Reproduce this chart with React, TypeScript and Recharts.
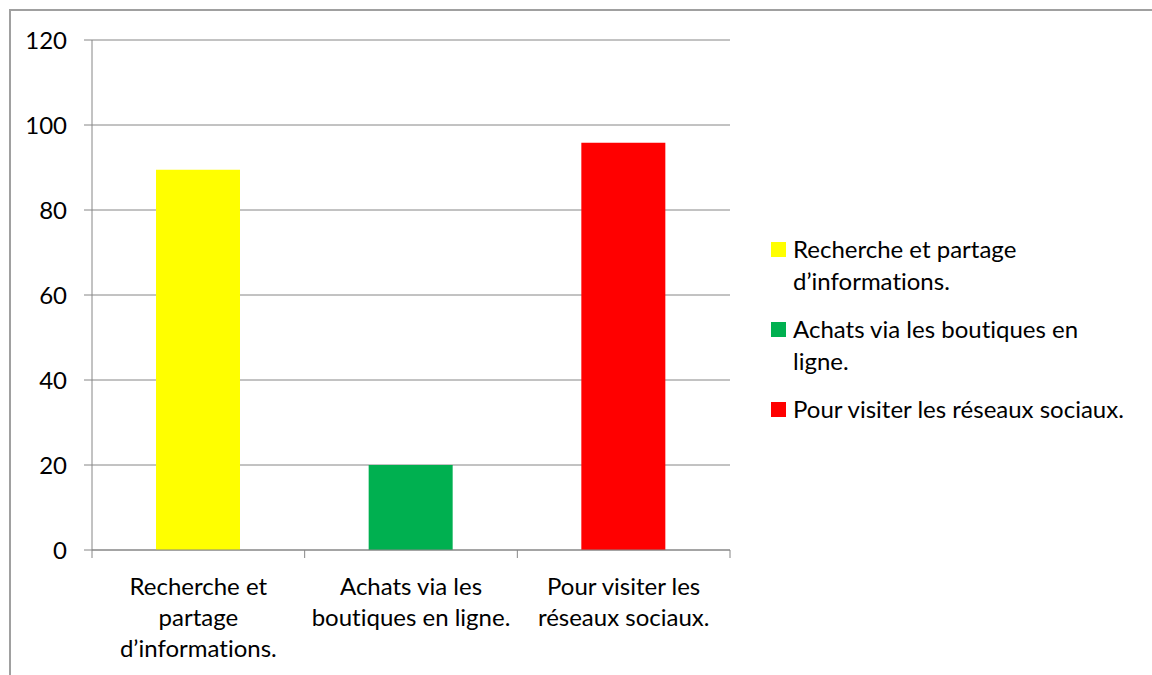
import React from "react";
import { BarChart, Bar, Cell, XAxis, YAxis, CartesianGrid, Legend } from "recharts";

const categories = [
  "Recherche et partage d’informations.",
  "Achats via les boutiques en ligne.",
  "Pour visiter les réseaux sociaux.",
];
const values = [89.5, 20, 95.8];
const colors = ["#FFFF00", "#00B050", "#FF0000"];
const axisLabelLines = [
  ["Recherche et", "partage", "d’informations."],
  ["Achats via les", "boutiques en ligne."],
  ["Pour visiter les", "réseaux sociaux."],
];
const legendLines = [
  ["Recherche et partage", "d’informations."],
  ["Achats via les boutiques en", "ligne."],
  ["Pour visiter les réseaux sociaux."],
];
const yTicks = [0, 20, 40, 60, 80, 100, 120];

const FONT = "Lato, 'Open Sans', sans-serif";
const GREY = "#868686";

const data = categories.map((name, i) => ({
  name,
  value: values[i],
  color: colors[i],
  lines: axisLabelLines[i],
}));

const CategoryTick = (props: any) => {
  const { x, y, payload, index, visibleTicksCount, width } = props;
  const half = payload.offset ?? width / visibleTicksCount / 2;
  const lines: string[] = data[index]?.lines ?? [payload.value];
  const top = y - 8;
  return (
    <g>
      <line x1={x - half} x2={x - half} y1={top} y2={top + 8} stroke={GREY} />
      {index === visibleTicksCount - 1 && (
        <line x1={x + half} x2={x + half} y1={top} y2={top + 8} stroke={GREY} />
      )}
      <text
        x={x}
        y={top + 45}
        textAnchor="middle"
        fontFamily={FONT}
        fontSize={24}
        fill="#000"
        style={{ fontVariantLigatures: "none" }}
      >
        {lines.map((l, i) => (
          <tspan key={i} x={x} dy={i === 0 ? 0 : 31}>
            {l}
          </tspan>
        ))}
      </text>
    </g>
  );
};

const LegendContent = () => (
  <div
    style={{
      fontFamily: FONT,
      fontSize: 24,
      lineHeight: "32px",
      color: "#000",
      fontVariantLigatures: "none",
    }}
  >
    {legendLines.map((lines, i) => (
      <div key={i} style={{ display: "flex", marginBottom: 16 }}>
        <div
          style={{
            width: 15,
            height: 15,
            background: colors[i],
            marginTop: 9,
            marginRight: 7,
            flexShrink: 0,
          }}
        />
        <div>
          {lines.map((l, j) => (
            <div key={j} style={{ whiteSpace: "nowrap" }}>
              {l}
            </div>
          ))}
        </div>
      </div>
    ))}
  </div>
);

export default function App() {
  return (
    <div
      style={{
        position: "absolute",
        left: 0,
        top: 0,
        width: 1152,
        height: 675,
        overflow: "hidden",
        background: "#fff",
      }}
    >
      <div
        style={{
          position: "absolute",
          left: 9,
          top: 9,
          width: 1200,
          height: 720,
          border: "2px solid #a0a0a0",
        }}
      />
      <div style={{ position: "absolute", left: 0, top: 0 }}>
        <BarChart
          width={1152}
          height={675}
          data={data}
          margin={{ top: 40, right: 422, bottom: 0, left: 0 }}
          barCategoryGap={0}
        >
          <CartesianGrid vertical={false} stroke={GREY} strokeWidth={1} />
          <XAxis
            dataKey="name"
            height={125}
            interval={0}
            axisLine={{ stroke: GREY }}
            tickLine={false}
            tick={<CategoryTick />}
          />
          <YAxis
            width={92}
            domain={[0, 120]}
            ticks={yTicks}
            interval={0}
            axisLine={{ stroke: GREY }}
            tickLine={{ stroke: GREY }}
            tickSize={8}
            tickMargin={17}
            tick={{ fontFamily: FONT, fontSize: 24, fill: "#000" }}
          />
          <Legend
            layout="horizontal"
            verticalAlign="middle"
            content={<LegendContent />}
            wrapperStyle={{ left: 771, top: 233, width: 380 }}
          />
          <Bar dataKey="value" barSize={84} isAnimationActive={false}>
            {data.map((d, i) => (
              <Cell key={i} fill={d.color} />
            ))}
          </Bar>
        </BarChart>
      </div>
    </div>
  );
}
